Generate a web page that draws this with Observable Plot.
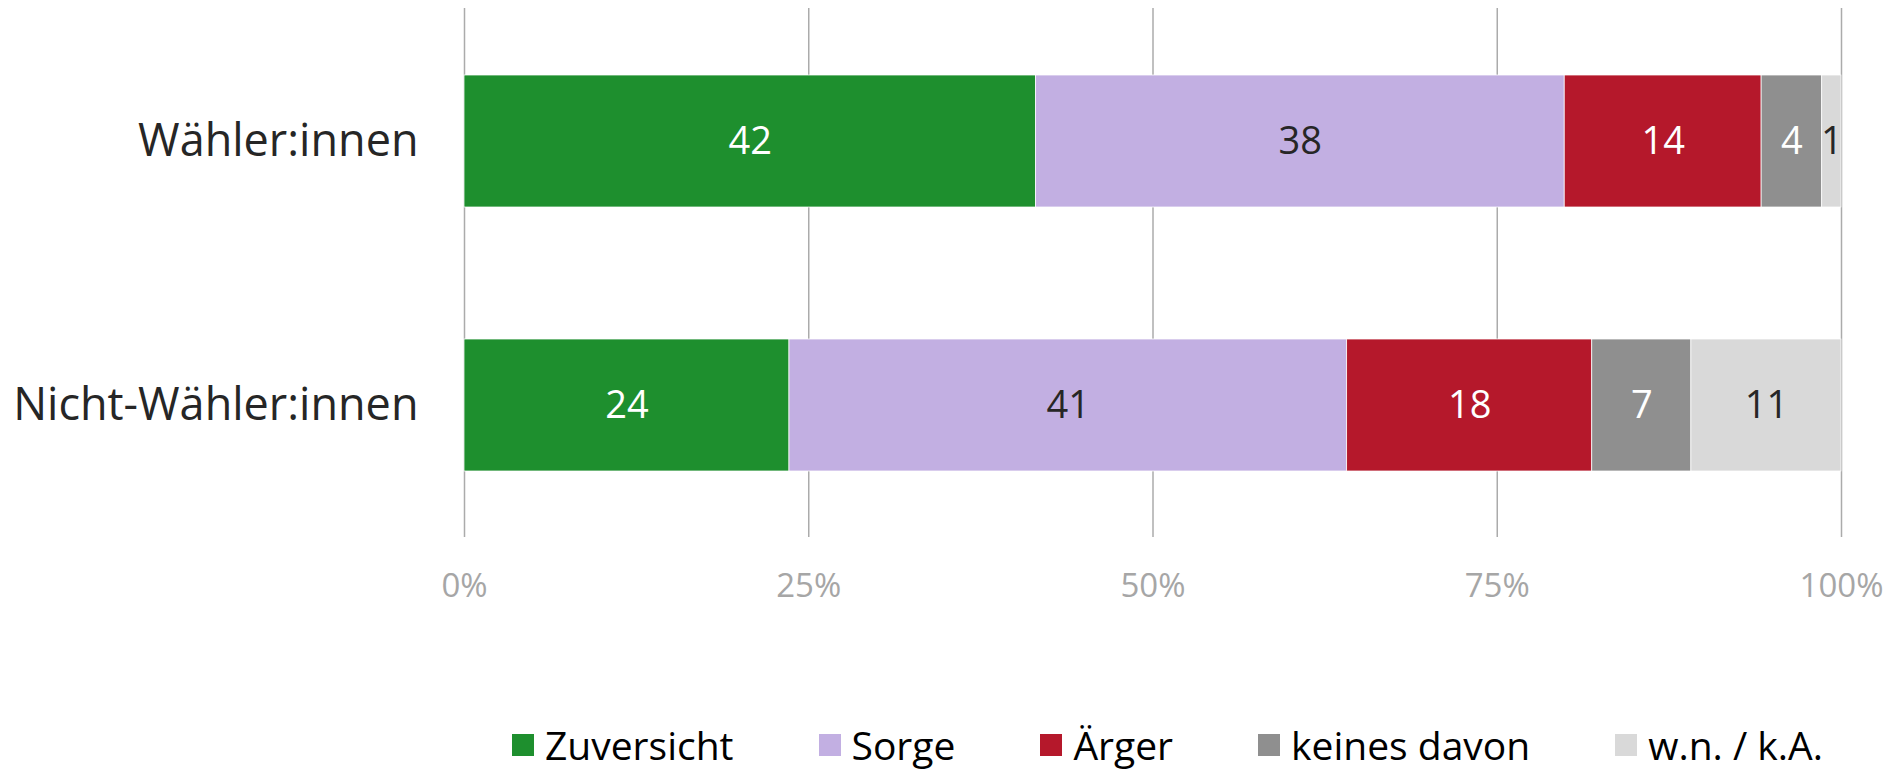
<!DOCTYPE html>
<html>
<head>
<meta charset="utf-8">
<script src="https://cdn.jsdelivr.net/npm/d3@7"></script>
<script src="https://cdn.jsdelivr.net/npm/@observablehq/plot@0.6"></script>
<style>
  html, body { margin: 0; padding: 0; background: #fff; overflow: hidden; }
  #wrap { position: relative; width: 1891px; height: 769px; font-family: "Open Sans", sans-serif; }
  #legend { position: absolute; left: 512px; top: 727px; display: flex; align-items: center; gap: 85px; font-size: 39px; line-height: 36px; color: #000; white-space: nowrap; }
  #legend .item { display: flex; align-items: center; }
  #legend .sw { width: 22px; height: 22px; margin-right: 11px; display: inline-block; }
</style>
</head>
<body>
<div id="wrap"></div>
<script>
// ---- data ----
const groups = ["Wähler:innen", "Nicht-Wähler:innen"];
const categories = ["Zuversicht", "Sorge", "Ärger", "keines davon", "w.n. / k.A."];
const colors = ["#1E8F2E", "#C2AFE2", "#B5182B", "#8F8F8F", "#D9D9D9"];
const labelOnDark = [true, false, true, true, false];
const waehler = [41.5, 38.4, 14.3, 4.4, 1.4];
const nichtWaehler = [23.6, 40.5, 17.8, 7.2, 10.9];
const xTicks = [0, 25, 50, 75, 100];

const series = [waehler, nichtWaehler];
const data = [];
groups.forEach((g, gi) => {
  categories.forEach((c, ci) => {
    data.push({group: g, category: c, value: series[gi][ci], dark: labelOnDark[ci]});
  });
});

const plot = Plot.plot({
  width: 1891,
  height: 640,
  marginLeft: 464,
  marginRight: 50,
  marginTop: 8,
  marginBottom: 103,
  style: {fontFamily: "'Open Sans', sans-serif", background: "#fff"},
  x: {domain: [0, 100], ticks: xTicks, tickFormat: d => d + "%", label: null, tickSize: 0, tickPadding: 36},
  y: {domain: groups, label: null, paddingInner: 0.5, paddingOuter: 0.25, tickSize: 0, tickPadding: 46},
  color: {domain: categories, range: colors},
  marks: [
    Plot.ruleX(xTicks, {stroke: "#ABABAB", strokeWidth: 1.5}),
    Plot.barX(data, Plot.stackX({x: "value", y: "group", fill: "category", stroke: "#fff", strokeWidth: 0.75})),
    Plot.text(data, Plot.stackX({x: "value", y: "group", z: "category",
      text: d => d.dark ? String(Math.round(d.value)) : null, fill: "#fff", fontSize: 38})),
    Plot.text(data, Plot.stackX({x: "value", y: "group", z: "category",
      text: d => !d.dark ? String(Math.round(d.value)) : null, fill: "#262626", fontSize: 38})),
    Plot.axisX({ticks: xTicks, tickFormat: d => d + "%", tickSize: 0, tickPadding: 36, fontSize: 33, color: "#A6A6A6", label: null}),
    Plot.axisY({tickSize: 0, tickPadding: 46, fontSize: 45, color: "#262626", label: null})
  ]
});

const wrap = document.getElementById("wrap");
wrap.appendChild(plot);

const legend = document.createElement("div");
legend.id = "legend";
categories.forEach((c, i) => {
  const item = document.createElement("div");
  item.className = "item";
  const sw = document.createElement("span");
  sw.className = "sw";
  sw.style.background = colors[i];
  const t = document.createElement("span");
  t.textContent = c;
  item.appendChild(sw);
  item.appendChild(t);
  legend.appendChild(item);
});
wrap.appendChild(legend);
</script>
</body>
</html>
